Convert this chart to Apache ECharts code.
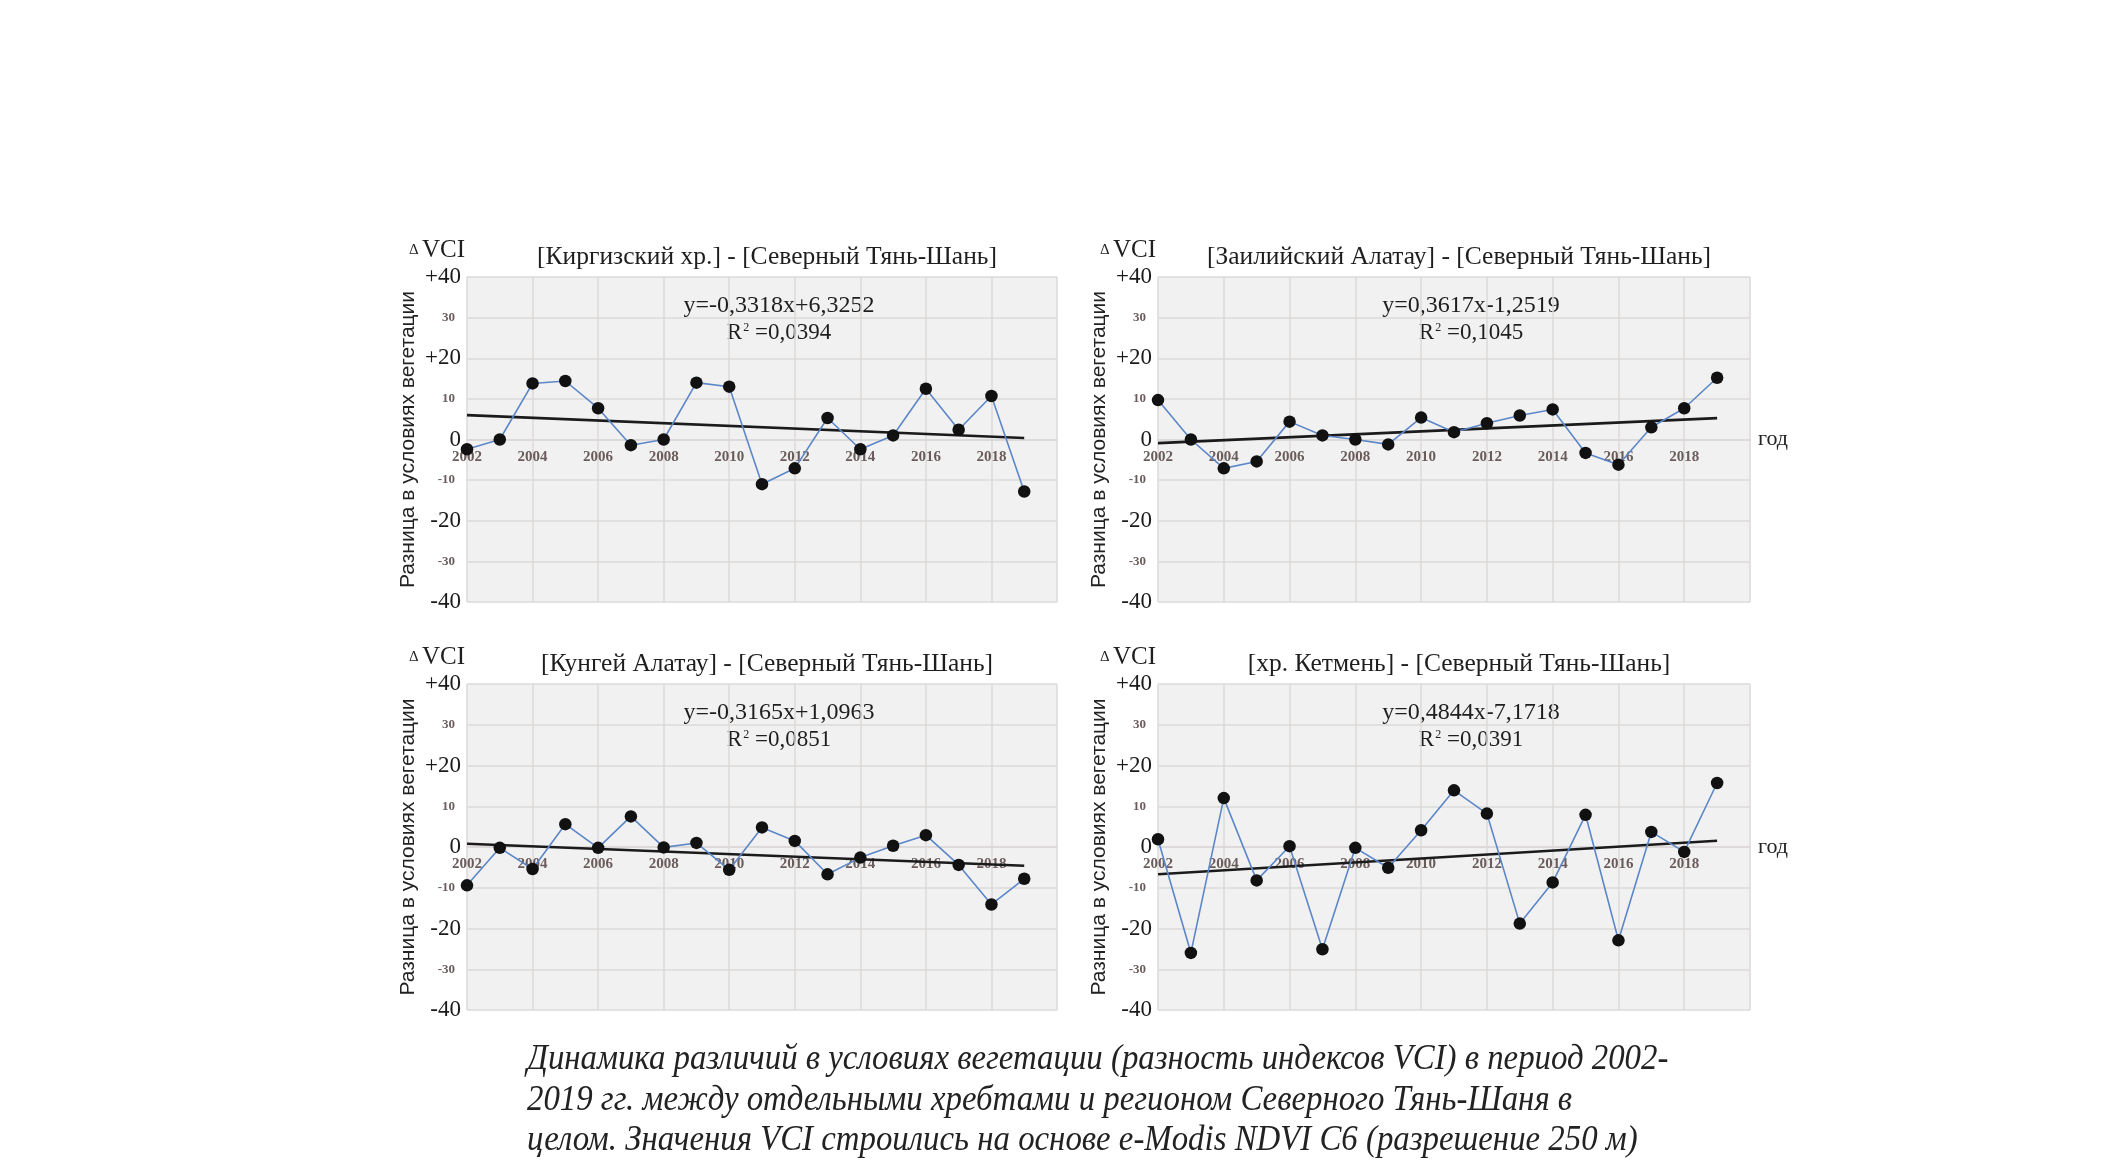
<!DOCTYPE html>
<html>
<head>
<meta charset="utf-8">
<script src="https://cdn.jsdelivr.net/npm/echarts@6/dist/echarts.min.js"></script>
<style>
  html, body { margin: 0; padding: 0; background: #ffffff; }
  #chart { width: 2117px; height: 1168px; }
</style>
</head>
<body>
<div id="chart"></div>
<script>
// Years of observation
const years = [2002, 2003, 2004, 2005, 2006, 2007, 2008, 2009, 2010, 2011, 2012, 2013, 2014, 2015, 2016, 2017, 2018, 2019];

// ΔVCI: ridge minus the whole Northern Tian Shan region
const kirgizRidge   = [-2.4, 0.0, 13.8, 14.4, 7.7, -1.4, 0.0, 14.0, 13.0, -11.0, -7.1, 5.3, -2.4, 1.0, 12.5, 2.4, 10.7, -12.8];
const zailiyAlatau  = [9.7, 0.0, -7.1, -5.4, 4.4, 1.0, 0.0, -1.2, 5.4, 1.8, 4.0, 5.9, 7.4, -3.3, -6.2, 3.0, 7.7, 15.2];
const kungeyAlatau  = [-9.4, -0.2, -5.4, 5.6, -0.2, 7.5, -0.1, 1.0, -5.6, 4.8, 1.5, -6.7, -2.6, 0.3, 2.9, -4.4, -14.1, -7.8];
const ketmenRidge   = [1.9, -26.0, 12.0, -8.2, 0.2, -25.1, -0.2, -5.1, 4.1, 13.9, 8.2, -18.8, -8.7, 7.9, -22.9, 3.7, -1.2, 15.7];

// Panel titles
const panelTitles = [
  '[Киргизский хр.] - [Северный Тянь-Шань]',
  '[Заилийский Алатау] - [Северный Тянь-Шань]',
  '[Кунгей Алатау] - [Северный Тянь-Шань]',
  '[хр. Кетмень] - [Северный Тянь-Шань]'
];

// Linear trends y = a·x + b, x = 1..18 (year index)
const trendSlopes     = [-0.3318, 0.3617, -0.3165, 0.4844];
const trendIntercepts = [6.3252, -1.2519, 1.0963, -7.1718];
const trendR2         = [0.0394, 0.1045, 0.0851, 0.0391];

// Y tick values and their printed labels
const yTickValues = [40, 30, 20, 10, 0, -10, -20, -30, -40];
const yTickLabels = ['+40', '30', '+20', '10', '0', '-10', '-20', '-30', '-40'];

const caption = [
  'Динамика различий в условиях вегетации (разность индексов VCI) в период 2002-',
  '2019 гг. между отдельными хребтами и регионом Северного Тянь-Шаня в',
  'целом. Значения VCI строились на основе e-Modis NDVI C6 (разрешение 250 м)'
];

const panelValues = [kirgizRidge, zailiyAlatau, kungeyAlatau, ketmenRidge];
const showYearName = [false, true, false, true];

const SERIF = '"Liberation Serif", "DejaVu Serif", serif';
const SANS = '"Liberation Sans", Arial, sans-serif';
const GRID_LINE = '#dcd8d8';

const grids = [
  { left: 467,  top: 277, width: 590, height: 325 },
  { left: 1158, top: 277, width: 592, height: 325 },
  { left: 467,  top: 684, width: 590, height: 326 },
  { left: 1158, top: 684, width: 592, height: 326 }
];

function fmtNum(v) {
  return Math.abs(v).toFixed(4).replace('.', ',');
}
function equationText(a, b) {
  return 'y=' + (a < 0 ? '-' : '') + fmtNum(a) + 'x' + (b < 0 ? '-' : '+') + fmtNum(b);
}

const gridOpts = [], xAxes = [], yAxes = [], series = [], titles = [], graphics = [];

grids.forEach((g, i) => {
  gridOpts.push(Object.assign({
    show: true, backgroundColor: '#f2f1f1', borderWidth: 0, containLabel: false
  }, g));

  // the year axis runs through ΔVCI = 0, i.e. the vertical middle of the plot
  xAxes.push({
    gridIndex: i, type: 'value', min: 2002, max: 2020, interval: 2,
    position: 'bottom', offset: -g.height / 2,
    name: showYearName[i] ? 'год' : '',
    nameLocation: 'end', nameGap: 8,
    nameTextStyle: { fontFamily: SERIF, fontSize: 22, color: '#222', align: 'left', verticalAlign: 'middle' },
    axisLine: { show: true, onZero: false, lineStyle: { color: GRID_LINE, width: 1.5 } },
    axisTick: { show: false },
    axisLabel: {
      margin: 10, fontFamily: SERIF, fontSize: 15, fontWeight: 'bold', color: '#6a5c5c',
      formatter: v => (v < 2020 ? String(v) : '')
    },
    splitLine: { show: true, lineStyle: { color: GRID_LINE, width: 1.5 } }
  });

  yAxes.push({
    gridIndex: i, type: 'value', min: -40, max: 40, interval: 10,
    name: 'Разница в условиях вегетации',
    nameLocation: 'middle', nameGap: 48, nameRotate: 90,
    nameTextStyle: { fontFamily: SANS, fontSize: 21, color: '#222' },
    axisLine: { show: false }, axisTick: { show: false },
    axisLabel: {
      margin: 6,
      formatter: v => {
        const k = yTickValues.indexOf(v);
        const t = k >= 0 ? yTickLabels[k] : '';
        return (v % 20 === 0) ? '{big|' + t + '}' : '{small|' + t + '}';
      },
      rich: {
        big: { fontFamily: SERIF, fontSize: 23, color: '#1a1a1a' },
        small: { fontFamily: SERIF, fontSize: 13, fontWeight: 'bold', color: '#6a5c5c', padding: [0, 6, 0, 0] }
      }
    },
    splitLine: { show: true, lineStyle: { color: GRID_LINE, width: 1.5 } }
  });

  const a = trendSlopes[i], b = trendIntercepts[i];
  series.push({
    type: 'line', xAxisIndex: i, yAxisIndex: i, z: 3,
    data: [[years[0], a * 1 + b], [years[years.length - 1], a * years.length + b]],
    symbol: 'none', lineStyle: { color: '#1b1b1b', width: 2.6 }, silent: true
  });
  series.push({
    type: 'line', xAxisIndex: i, yAxisIndex: i, z: 4,
    data: years.map((y, k) => [y, panelValues[i][k]]),
    symbol: 'circle', symbolSize: 12.5,
    itemStyle: { color: '#111111' },
    lineStyle: { color: '#5b87c9', width: 1.6 },
    silent: true
  });

  const cx = g.left + g.width / 2;
  titles.push({
    text: panelTitles[i], left: cx, top: g.top - 38, textAlign: 'center',
    textStyle: { fontFamily: SERIF, fontSize: 25.5, fontWeight: 'normal', color: '#1e1e1e' }
  });

  // ΔVCI header above the value axis
  graphics.push({
    type: 'text', x: g.left - 58, y: g.top - 27,
    style: {
      text: '{d|Δ} {v|VCI}', verticalAlign: 'middle', align: 'left',
      rich: {
        d: { fontFamily: SERIF, fontSize: 15, fill: '#1e1e1e' },
        v: { fontFamily: SERIF, fontSize: 25, fill: '#1e1e1e' }
      }
    }
  });

  // Trend equation and R²
  graphics.push({
    type: 'text', x: cx + 17, y: g.top + 29,
    style: { text: equationText(a, b), align: 'center', verticalAlign: 'middle',
             font: '24px ' + SERIF, fill: '#1e1e1e' }
  });
  graphics.push({
    type: 'text', x: cx + 17, y: g.top + 56,
    style: {
      text: '{r|R}{s|2}{r| =' + trendR2[i].toFixed(4).replace('.', ',') + '}',
      align: 'center', verticalAlign: 'middle',
      rich: {
        r: { fontFamily: SERIF, fontSize: 23, fill: '#1e1e1e' },
        s: { fontFamily: SERIF, fontSize: 12, fill: '#1e1e1e', verticalAlign: 'top', padding: [0, 0, 11, 1] }
      }
    }
  });
});

caption.forEach((line, k) => {
  graphics.push({
    type: 'text', x: 527, y: 1060 + k * 40.5, scaleX: 0.938,
    style: { text: line, align: 'left', verticalAlign: 'middle',
             font: 'italic 35px ' + SERIF, fill: '#222' }
  });
});

const chart = echarts.init(document.getElementById('chart'), null, { renderer: 'canvas' });
chart.setOption({
  animation: false,
  backgroundColor: '#ffffff',
  title: titles,
  grid: gridOpts,
  xAxis: xAxes,
  yAxis: yAxes,
  series: series,
  graphic: graphics
});
</script>
</body>
</html>
